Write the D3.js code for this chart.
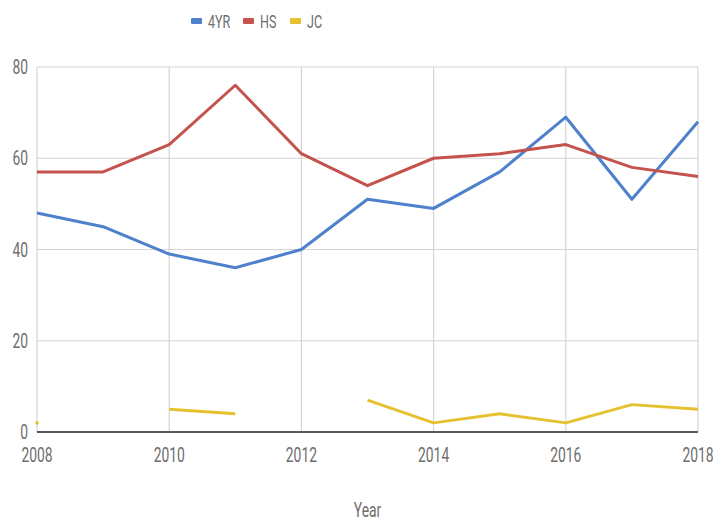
<!DOCTYPE html>
<html><head><meta charset="utf-8">
<script src="https://cdn.jsdelivr.net/npm/d3@7"></script>
<style>body{margin:0;background:#fff}svg{display:block}</style>
</head><body>
<svg id="c" width="716" height="521"></svg>
<script>
const years = [2008,2009,2010,2011,2012,2013,2014,2015,2016,2017,2018];
const fourYR = [48,45,39,36,40,51,49,57,69,51,68];
const hs = [57,57,63,76,61,54,60,61,63,58,56];
const jc = [2,null,5,4,null,7,2,4,2,6,5];
const seriesNames = ["4YR","HS","JC"];
const seriesColors = ["#4f80cc","#c4524d","#e6c12f"];
const xTicks = [2008,2010,2012,2014,2016,2018];
const yTicks = [0,20,40,60,80];
const xTitle = "Year";

const svg = d3.select("#c");
const L=37,R=698,T=67,B=432;
const x = d3.scaleLinear().domain([2008,2018]).range([L,R]);
const y = d3.scaleLinear().domain([0,80]).range([B,T]);
const textCol="#6e6e6e";
const sx=0.66;

function label(g, px, py, txt, anchor, size){
  g.append("g").attr("transform",`translate(${px},${py}) scale(${sx},1)`)
   .append("text").text(txt).attr("text-anchor",anchor)
   .attr("font-family","Roboto, 'Noto Sans', sans-serif").attr("font-size",size)
   .attr("fill",textCol);
}

// grid
svg.append("g").selectAll("line").data(yTicks.filter(d=>d>0)).join("line")
  .attr("x1",L).attr("x2",R).attr("y1",d=>y(d)).attr("y2",d=>y(d))
  .attr("stroke","#d4d4d4").attr("stroke-width",1.2);
svg.append("g").selectAll("line").data(xTicks).join("line")
  .attr("x1",d=>x(d)).attr("x2",d=>x(d)).attr("y1",T).attr("y2",B)
  .attr("stroke","#d4d4d4").attr("stroke-width",1.2);

// axis labels
const gl = svg.append("g");
yTicks.forEach(t=>label(gl, 28, y(t)+7, String(t), "end", 21));
xTicks.forEach(t=>label(gl, x(t), 462, String(t), "middle", 21));
label(gl, (L+R)/2, 517, xTitle, "middle", 21);

// series
const all=[fourYR,hs,jc];
all.forEach((vals,i)=>{
  const pts = years.map((yr,k)=>({yr,v:vals[k]}));
  const line = d3.line().defined(d=>d.v!=null).x(d=>x(d.yr)).y(d=>y(d.v));
  svg.append("path").datum(pts).attr("d",line).attr("fill","none")
    .attr("stroke",seriesColors[i]).attr("stroke-width",3).attr("stroke-linejoin","round");
  // isolated points
  pts.forEach((p,k)=>{
    if(p.v==null) return;
    const prev = k>0 ? pts[k-1].v : null, next = k<pts.length-1 ? pts[k+1].v : null;
    if(prev==null && next==null){
      svg.append("circle").attr("cx",x(p.yr)).attr("cy",y(p.v)).attr("r",1.8).attr("fill",seriesColors[i]);
    }
  });
});

// baseline
svg.append("line").attr("x1",L).attr("x2",R).attr("y1",y(0)).attr("y2",y(0))
  .attr("stroke","#5a5a5a").attr("stroke-width",2);

// legend
const legX=[191,243,290];
seriesNames.forEach((n,i)=>{
  svg.append("rect").attr("x",legX[i]).attr("y",18).attr("width",11).attr("height",6)
    .attr("rx",1).attr("fill",seriesColors[i]);
  label(svg, legX[i]+17, 28, n, "start", 19);
});
</script>
</body></html>
